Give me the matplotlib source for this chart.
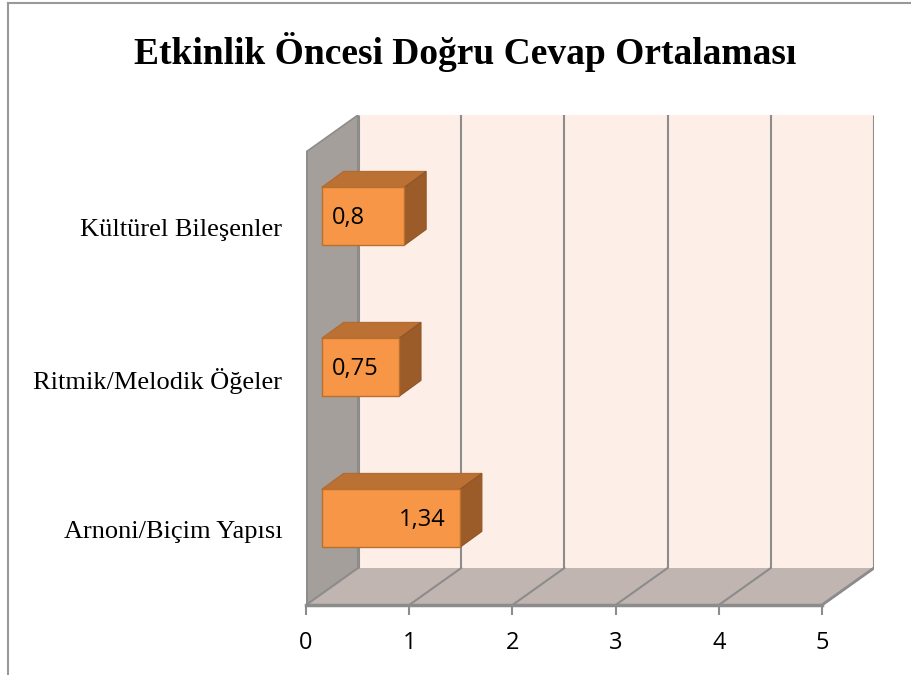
import matplotlib.pyplot as plt
from matplotlib.patches import Polygon
from matplotlib.lines import Line2D

# Data
categories = ['Arnoni/Biçim Yapısı', 'Ritmik/Melodik Öğeler', 'Kültürel Bileşenler']
values = [1.34, 0.75, 0.8]
value_labels = ['1,34', '0,75', '0,8']
x_ticks = [0, 1, 2, 3, 4, 5]

# 3D look: depth offset of the back plane (data units)
D, DY = 0.504, 0.245
xmax = 5
ymax = 3

fig = plt.figure(figsize=(9.12, 6.75), dpi=100)
fig.patch.set_facecolor('white')
ax = fig.add_axes([306 / 912, 70 / 675, 568 / 912, 490 / 675])
ax.set_xlim(0, xmax + D)
ax.set_ylim(0, ymax + DY)
for s in ax.spines.values():
    s.set_visible(False)
ax.set_facecolor('none')

grid_c = '#8c8c8c'

# back wall
ax.add_patch(Polygon([(D, DY), (xmax + D, DY), (xmax + D, ymax + DY), (D, ymax + DY)],
                     closed=True, facecolor='#fdeee7', edgecolor='none', zorder=1))
# floor
ax.add_patch(Polygon([(0, 0), (xmax, 0), (xmax + D, DY), (D, DY)],
                     closed=True, facecolor='#c0b5b1', edgecolor='none', zorder=1))
# left wall
ax.add_patch(Polygon([(0, 0), (D, DY), (D, ymax + DY), (0, ymax)],
                     closed=True, facecolor='#a59f9b', edgecolor='none', zorder=1))

# gridlines on back wall and floor
for t in x_ticks:
    lw = 2.2 if t in (0, xmax) else 1.5
    ax.plot([t + D, t + D], [DY, ymax + DY], color=grid_c, lw=lw, zorder=2, solid_capstyle='butt')
    ax.plot([t, t + D], [0, DY], color=grid_c, lw=1.5, zorder=2)
# wall & floor edges
ax.plot([0, 0], [0, ymax], color=grid_c, lw=2, zorder=2)
ax.plot([0, D], [ymax, ymax + DY], color=grid_c, lw=1.2, zorder=2)
ax.plot([0, xmax], [0, 0], color=grid_c, lw=2.5, zorder=2, clip_on=False)
ax.plot([xmax, xmax + D], [0, DY], color=grid_c, lw=2, zorder=2)

# bars
t0 = 0.3
ox, oy = t0 * D, t0 * DY
bdx, bdy = 0.213, 0.106
bh = 0.384
ypos = [i + 0.5 for i in range(len(categories))]
ax.barh([y + oy for y in ypos], values, left=ox, height=bh, color='#f79646',
        edgecolor='#b8702f', linewidth=1, zorder=5)
for y, v, lab in zip(ypos, values, value_labels):
    y0 = y + oy - bh / 2
    y1 = y + oy + bh / 2
    x0, x1 = ox, ox + v
    ax.add_patch(Polygon([(x0, y1), (x1, y1), (x1 + bdx, y1 + bdy), (x0 + bdx, y1 + bdy)],
                         closed=True, facecolor='#bb7034', edgecolor='#b06a30', lw=0.8, zorder=4))
    ax.add_patch(Polygon([(x1, y0), (x1 + bdx, y0 + bdy), (x1 + bdx, y1 + bdy), (x1, y1)],
                         closed=True, facecolor='#9b5c29', edgecolor='#8f5526', lw=0.8, zorder=4))
    if v > 1:
        ax.text(x1 - 0.14, y + oy - 0.01, lab, ha='right', va='center', fontsize=17,
                family='Open Sans', color='black', zorder=6)
    else:
        ax.text(x0 + 0.1, y + oy - 0.01, lab, ha='left', va='center', fontsize=17,
                family='Open Sans', color='black', zorder=6)

# axes ticks
ax.set_xticks(x_ticks)
ax.set_xticklabels([str(t) for t in x_ticks], fontsize=17, family='Open Sans')
ax.tick_params(axis='x', length=7, width=1.5, color=grid_c, pad=12)
ax.set_yticks(ypos)
ax.set_yticklabels(categories, fontsize=19, family='Liberation Serif')
ax.tick_params(axis='y', length=0, pad=17)

fig.text(465 / 912, 1 - 52 / 675, 'Etkinlik Öncesi Doğru Cevap Ortalaması', ha='center', va='center',
         fontsize=27, fontweight='bold', family='Liberation Serif')

# outer frame
fig.add_artist(Line2D([8 / 912, 8 / 912], [0, 1 - 3 / 675], transform=fig.transFigure, color='#999999', lw=1.5))
fig.add_artist(Line2D([8 / 912, 1], [1 - 3 / 675, 1 - 3 / 675], transform=fig.transFigure, color='#999999', lw=1.5))

fig.savefig('out.png', dpi=100)
